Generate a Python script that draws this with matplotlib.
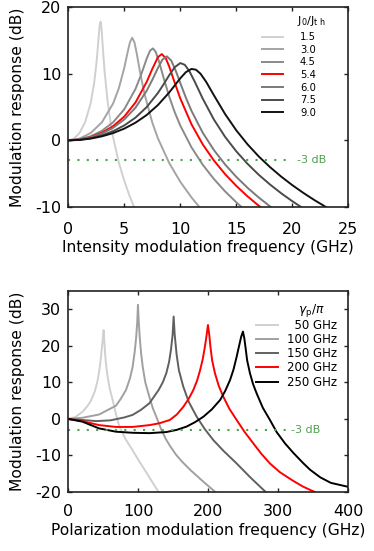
import matplotlib
matplotlib.use("Agg")
import matplotlib.pyplot as plt

# ---- top panel: intensity modulation, J0/Jth values ----
j_labels = ["1.5", "3.0", "4.5", "5.4", "6.0", "7.5", "9.0"]
j_colors = ["#d0d0d0", "#a4a4a4", "#8a8a8a", "red", "#7a7a7a", "#4a4a4a", "#111111"]

im_f_15 = [0, 0.5, 1, 1.5, 2, 2.3, 2.5, 2.6, 2.7, 2.8, 2.89, 2.95, 3.0, 3.1, 3.25, 3.5, 3.8, 4, 4.5, 5, 5.5, 6.0]
im_db_15 = [0, 0.26, 1.1, 2.71, 5.59, 8.49, 11.35, 13.2, 15.33, 17.27, 17.8, 17.0, 15.97, 13.5, 10.18, 5.99, 2.38, 0.48, -3.26, -6.08, -8.46, -10.5]

im_f_30 = [0, 1, 2, 3, 4, 4.5, 5, 5.3, 5.5, 5.7, 5.9, 6.1, 6.4, 6.8, 7.5, 8, 9, 10, 11, 11.8]
im_db_30 = [0, 0.26, 1.10, 2.70, 5.52, 7.74, 10.88, 13.24, 14.69, 15.38, 14.74, 13.13, 10.30, 7.00, 2.66, 0.31, -3.37, -6.22, -8.56, -10.2]

im_f_45 = [0, 1, 2, 3, 4, 5, 6, 6.5, 7, 7.3, 7.55, 7.8, 8.1, 8.5, 9, 9.5, 10, 11, 12, 13, 14, 15, 15.6]
im_db_45 = [0, 0.15, 0.61, 1.43, 2.71, 4.67, 7.71, 9.83, 12.26, 13.45, 13.79, 13.29, 11.83, 9.43, 6.61, 4.23, 2.21, -1.05, -3.65, -5.80, -7.66, -9.29, -10.2]

im_f_54 = [0, 1, 2, 3, 4, 5, 6, 7, 7.5, 8, 8.35, 8.7, 9, 9.5, 10, 11, 12, 13, 14, 15, 16, 17, 17.3]
im_db_54 = [0, 0.12, 0.49, 1.14, 2.13, 3.57, 5.68, 8.77, 10.71, 12.47, 12.94, 12.32, 11.11, 8.65, 6.28, 2.40, -0.60, -3.02, -5.07, -6.83, -8.40, -9.80, -10.2]

im_f_60 = [0, 1, 2, 3, 4, 5, 6, 7, 7.5, 8, 8.4, 8.8, 9.2, 9.6, 10, 10.5, 11, 12, 13, 14, 15, 16, 17, 18, 18.3]
im_db_60 = [0, 0.11, 0.44, 1.01, 1.88, 3.13, 4.90, 7.44, 9.07, 10.85, 12.10, 12.60, 11.94, 10.41, 8.59, 6.39, 4.42, 1.15, -1.46, -3.62, -5.48, -7.11, -8.57, -9.89, -10.26]

im_f_75 = [0, 1, 2, 3, 4, 5, 6, 7, 8, 8.5, 9, 9.5, 10, 10.4, 10.8, 11.3, 12, 13, 14, 15, 16, 17, 18, 19, 20, 21]
im_db_75 = [0, 0.08, 0.32, 0.75, 1.37, 2.24, 3.41, 4.99, 7.10, 8.38, 9.74, 10.97, 11.59, 11.33, 10.41, 8.76, 6.27, 3.12, 0.52, -1.65, -3.52, -5.16, -6.61, -7.93, -9.13, -10.24]

im_f_90 = [0, 1, 2, 3, 4, 5, 6, 7, 8, 9, 9.5, 10, 10.5, 11, 11.4, 11.8, 12.3, 13, 14, 15, 16, 17, 18, 19, 20, 21, 22, 23, 23.5]
im_db_90 = [0, 0.06, 0.26, 0.60, 1.09, 1.76, 2.65, 3.80, 5.29, 7.16, 8.23, 9.31, 10.23, 10.71, 10.59, 10.00, 8.80, 6.76, 3.94, 1.50, -0.59, -2.41, -4.00, -5.43, -6.72, -7.90, -8.99, -10.0, -10.5]

# ---- bottom panel: polarization modulation, gamma_p/pi values ----
g_labels = ["\u200750 GHz", "100 GHz", "150 GHz", "200 GHz", "250 GHz"]
g_colors = ["#d0d0d0", "#a0a0a0", "#606060", "red", "black"]

pm_f_50 = [0, 10, 20.5, 27, 32.4, 38, 42, 45, 46.7, 48, 49.1, 50.5, 51.7, 52.9, 54.5, 56.2, 59.5, 63.4, 68, 72.9, 82, 91.9, 101, 111, 120, 129]
pm_db_50 = [0, 0.5, 2.0, 3.4, 5.0, 7.6, 10.6, 14.2, 17, 19.4, 21.6, 24.3, 20.5, 17, 14, 11.5, 8.0, 5.2, 1.4, -2.1, -5.6, -8.6, -11.5, -14.5, -17.3, -20]

pm_f_100 = [0, 20, 44, 68, 75, 82.4, 88, 91.9, 95, 97, 98.5, 99.5, 100.7, 102, 104, 106.3, 110, 115.7, 121, 127.6, 133, 139.6, 145.3, 153.9, 163, 174.5, 193, 210]
pm_db_100 = [0, 0.3, 1.2, 3.6, 5.5, 7.9, 11, 14.2, 18.6, 22.4, 26.5, 31.2, 26.5, 22.4, 18, 14.3, 10, 6.1, 2.8, -0.3, -3.0, -5.6, -7.4, -9.8, -11.8, -14, -17.2, -20]

pm_f_150 = [0, 20, 40, 60, 80, 92, 104, 116, 129, 135, 140, 144, 146.7, 149, 150.5, 152, 154.8, 158, 164.3, 172, 183.4, 195, 207.2, 222, 240.5, 260, 282]
pm_db_150 = [0, -0.3, -0.6, -0.4, 0.4, 1.1, 2.5, 4.3, 7.9, 10.0, 12.5, 15.6, 19, 23, 28, 23, 17.5, 13.3, 8.8, 4.7, 0.6, -2.8, -5.8, -8.8, -12.2, -16, -20]

pm_f_200 = [0, 20, 44, 68, 92, 116, 130, 145, 155, 164.3, 172, 178.6, 184, 188.1, 192, 195.2, 197.5, 199.5, 201.5, 203, 205.5, 209.5, 215, 221.4, 230, 240.5, 252, 264.3, 276, 288.1, 302.4, 320, 335, 352]
pm_db_200 = [0, -0.6, -1.7, -2.2, -2.2, -1.7, -1.2, -0.3, 1.2, 3.3, 5.5, 7.9, 10.5, 13.2, 16.3, 19.8, 22.8, 25.7, 22.8, 19.8, 16, 12.5, 9, 6.1, 2.8, -0.3, -3.6, -6.7, -9.6, -12.2, -14.6, -16.8, -18.5, -20]

pm_f_250 = [0, 20, 44, 68, 92, 116, 140, 155, 169, 181, 193, 205, 217, 224, 231, 236, 240.5, 244, 247, 249.5, 251.5, 253, 255.5, 259.5, 264, 269, 278, 288.1, 297.6, 310, 321.5, 335, 345.3, 360, 375, 400]
pm_db_250 = [0, -0.75, -2.6, -3.5, -3.8, -3.9, -3.6, -3.0, -2.1, -0.9, 0.6, 2.6, 5.2, 7.6, 10.6, 13.5, 17, 20, 22.5, 23.9, 22, 19.8, 16, 12.5, 9.5, 7, 3, -0.3, -3.6, -6.8, -9.3, -12, -13.9, -16, -17.5, -18.6]

im_curves = [(im_f_15, im_db_15), (im_f_30, im_db_30), (im_f_45, im_db_45), (im_f_54, im_db_54),
             (im_f_60, im_db_60), (im_f_75, im_db_75), (im_f_90, im_db_90)]
pm_curves = [(pm_f_50, pm_db_50), (pm_f_100, pm_db_100), (pm_f_150, pm_db_150),
             (pm_f_200, pm_db_200), (pm_f_250, pm_db_250)]

green = "#50a050"
frame = "#222222"


def style(ax, xpad):
    for s in ax.spines.values():
        s.set_color(frame)
        s.set_linewidth(1.2)
    ax.tick_params(direction="in", top=True, right=True, length=3, width=1,
                   color=frame, labelsize=11.5)
    ax.tick_params(axis="x", pad=xpad)
    ax.tick_params(axis="y", pad=5)


fig = plt.figure(figsize=(3.74, 5.51), dpi=100)

# first plot
ax1 = fig.add_axes([0.1826, 0.6243, 0.7487, 0.3630])
for (f, db), lab, c in zip(im_curves, j_labels, j_colors):
    ax1.plot(f, db, color=c, lw=1.4, label=lab)
ax1.axhline(-3, xmin=0, xmax=0.79, color=green, lw=1.5, ls=(0, (1, 3.5)))
ax1.text(0.815, -3, "-3 dB", color=green, fontsize=8, va="center",
         transform=ax1.get_yaxis_transform())
ax1.set_xlim(0, 25)
ax1.set_ylim(-10, 20)
ax1.set_xticks([0, 5, 10, 15, 20, 25])
ax1.set_yticks([-10, 0, 10, 20])
ax1.set_yticklabels(["-10", "0", "10", "20"])
ax1.set_xlabel("Intensity modulation frequency (GHz)", fontsize=11.2)
ax1.set_ylabel("Modulation response (dB)", fontsize=11.2)
ax1.xaxis.set_label_coords(0.5, -0.165)
ax1.yaxis.set_label_coords(-0.155, 0.5)
style(ax1, 10.5)
ax1.legend(loc="upper left", bbox_to_anchor=(0.692, 0.874), frameon=False,
           fontsize=7.2, handlelength=2.1, handletextpad=1.7, labelspacing=0.26,
           borderpad=0, borderaxespad=0)
ax1.text(0.818, 0.93, r"J$_0$/J$_{\mathregular{t\ h}}$", transform=ax1.transAxes,
         fontsize=8.2, va="center", ha="left")

# second plot
ax2 = fig.add_axes([0.1826, 0.1071, 0.7487, 0.3648])
for (f, db), lab, c in zip(pm_curves, g_labels, g_colors):
    ax2.plot(f, db, color=c, lw=1.4, label=lab)
ax2.axhline(-3, xmin=0, xmax=0.78, color=green, lw=1.5, ls=(0, (1, 3.5)))
ax2.text(0.795, -3, "-3 dB", color=green, fontsize=8, va="center",
         transform=ax2.get_yaxis_transform())
ax2.set_xlim(0, 400)
ax2.set_ylim(-20, 35)
ax2.set_xticks([0, 100, 200, 300, 400])
ax2.set_yticks([-20, -10, 0, 10, 20, 30])
ax2.set_yticklabels(["-20", "-10", "0", "10", "20", "30"])
ax2.set_xlabel("Polarization modulation frequency (GHz)", fontsize=11.2)
ax2.set_ylabel("Modulation response (dB)", fontsize=11.2)
ax2.xaxis.set_label_coords(0.5, -0.152)
ax2.yaxis.set_label_coords(-0.155, 0.5)
style(ax2, 8.5)
ax2.legend(loc="upper left", bbox_to_anchor=(0.670, 0.861), frameon=False,
           fontsize=8.5, handlelength=1.86, handletextpad=0.8, labelspacing=0.1,
           borderpad=0, borderaxespad=0)
ax2.text(0.821, 0.905, r"$\gamma_{\mathregular{p}}/\pi$", transform=ax2.transAxes,
         fontsize=8.8, va="center", ha="left")

fig.savefig("out.png", dpi=100)
